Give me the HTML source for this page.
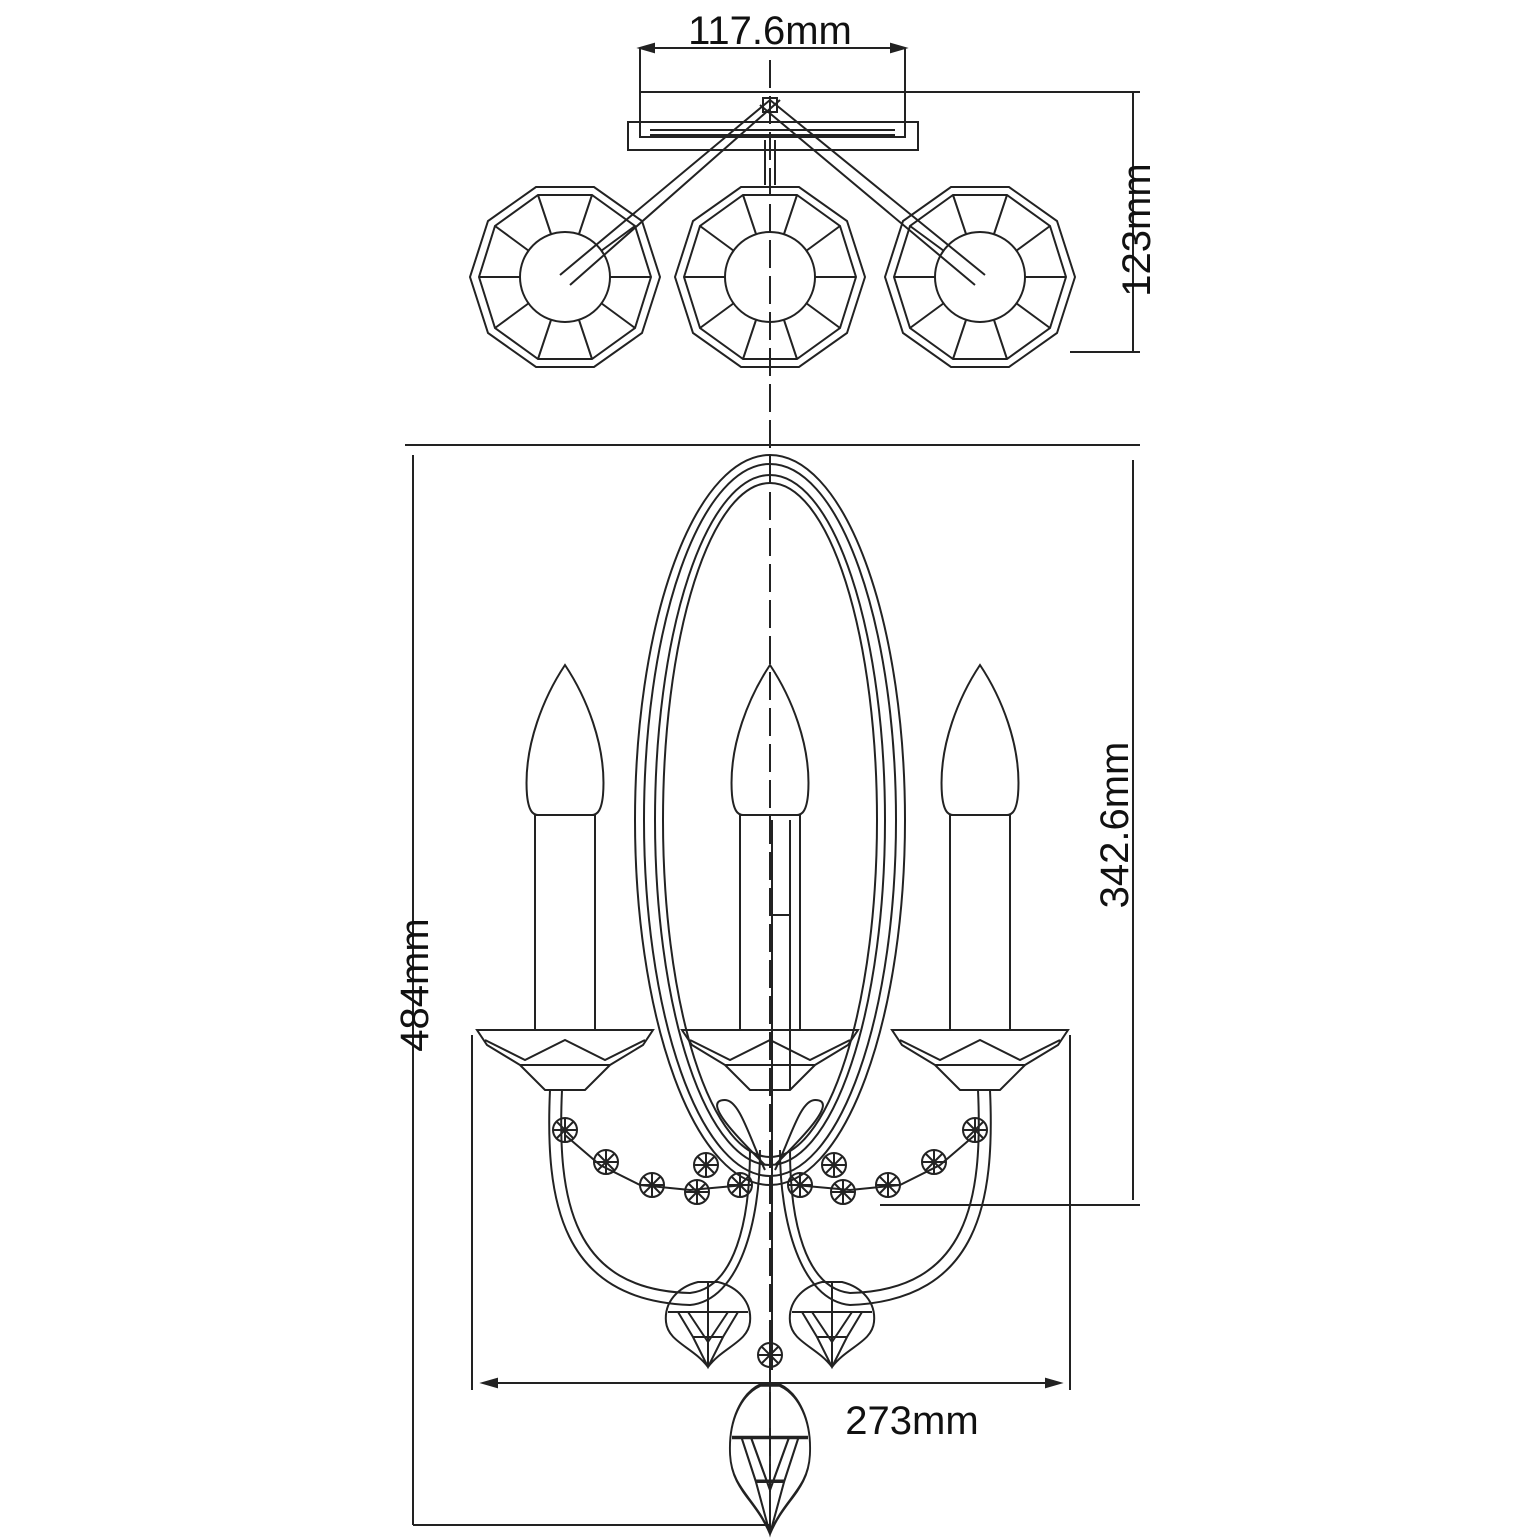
<!DOCTYPE html>
<html><head><style>body{margin:0;background:#fff}svg{display:block}</style></head><body>
<svg width="1540" height="1540" viewBox="0 0 1540 1540" xmlns="http://www.w3.org/2000/svg" font-family="Liberation Sans, sans-serif">
<defs>
<g id="dec" fill="none" stroke="#222" stroke-width="2">
<polygon points="95,0 77,56 29,90 -29,90 -77,56 -95,0 -77,-56 -29,-90 29,-90 77,-56"/>
<polygon points="86,0 70,51 27,82 -27,82 -70,51 -86,0 -70,-51 -27,-82 27,-82 70,-51"/>
<circle r="45"/>
<path d="M45,0H86M36,26L70,51M14,43L27,82M-14,43L-27,82M-36,26L-70,51M-45,0H-86M-36,-26L-70,-51M-14,-43L-27,-82M14,-43L27,-82M36,-26L70,-51"/>
</g>
<g id="cand" fill="none" stroke="#222" stroke-width="2">
<path d="M0,-150 C-20,-120 -42,-70 -38,-20 C-36,0 -30,0 -25,0 L25,0 C30,0 36,0 38,-20 C42,-70 20,-120 0,-150Z"/>
<rect x="-30" y="0" width="60" height="215"/>
<path d="M-88,215 H88 L78,230 L45,250 H-45 L-78,230Z M-45,250 L-20,275 H20 L45,250 M-80,225 L-40,245 L0,225 L40,245 L80,225"/>
</g>
<g id="cry" fill="none" stroke="#222" stroke-width="2">
<path d="M-10,0 C-30,5 -44,20 -42,40 C-40,60 -15,65 0,85 C15,65 40,60 42,40 C44,20 30,5 10,0Z M-40,30 H40 M-30,30 L-15,55 L0,85 L15,55 L30,30 M-20,30 L0,60 L20,30 M-15,55 H15 M0,0 V85"/>
</g>
<g id="bead" fill="none" stroke="#222" stroke-width="2"><circle r="12"/><path d="M-12,0H12M0,-12V12M-8,-8L8,8M8,-8L-8,8"/></g>
</defs>
<g fill="none" stroke="#222" stroke-width="2">
<path d="M640,48H905M640,48V95M905,48V95"/>
<path d="M640,48l14,-4v8z M905,48l-14,-4v8z" fill="#222"/>
<rect x="640" y="92" width="265" height="45"/>
<rect x="628" y="122" width="290" height="28"/>
<path d="M650,130H895M650,135H895"/>
<path d="M765,140V185M775,140V185"/>
<path d="M770,100L560,275M780,100L570,285M770,100L985,275M760,105L975,285"/>
<rect x="763" y="98" width="14" height="14"/>
<path d="M905,92H1140M1070,352H1140M1133,92V352"/>
<path d="M770,60V1535" stroke-dasharray="28,8"/>
</g>
<use href="#dec" x="565" y="277"/><use href="#dec" x="770" y="277"/><use href="#dec" x="980" y="277"/>
<g fill="none" stroke="#222" stroke-width="2">
<path d="M405,445H1140M413,455V1525M413,1525H770M1133,460V1200M880,1205H1140"/>
<path d="M472,1035V1390M1070,1035V1390M483,1383H1060"/>
<path d="M483,1383l14,-4v8z M1060,1383l-14,-4v8z" fill="#222"/>
<ellipse cx="770" cy="820" rx="135" ry="365"/>
<ellipse cx="770" cy="820" rx="126" ry="356"/>
<ellipse cx="770" cy="820" rx="115" ry="345"/>
<ellipse cx="770" cy="820" rx="107" ry="337"/>
<path d="M772,820V1370M790,820V1090M772,915H790"/>
<path d="M550,1090C545,1200 560,1300 690,1305 C740,1300 760,1220 760,1150M562,1090C557,1200 572,1290 690,1293 C735,1288 750,1220 750,1150"/>
<path d="M990,1090C995,1200 980,1300 850,1305 C800,1300 780,1220 780,1150M978,1090C983,1200 968,1290 850,1293 C805,1288 790,1220 790,1150"/>
<path d="M765,1165C740,1140 700,1100 725,1100 C740,1100 750,1140 765,1170M775,1165C800,1140 840,1100 815,1100 C800,1100 790,1140 775,1170"/>
<path d="M565,1135L600,1165L640,1185L690,1190L745,1185M975,1135L940,1165L900,1185L850,1190L795,1185"/>
</g>
<use href="#cand" x="565" y="815"/><use href="#cand" x="770" y="815"/><use href="#cand" x="980" y="815"/>
<use href="#bead" x="565" y="1130"/><use href="#bead" x="606" y="1162"/><use href="#bead" x="652" y="1185"/><use href="#bead" x="697" y="1192"/><use href="#bead" x="740" y="1185"/><use href="#bead" x="706" y="1165"/>
<use href="#bead" x="975" y="1130"/><use href="#bead" x="934" y="1162"/><use href="#bead" x="888" y="1185"/><use href="#bead" x="843" y="1192"/><use href="#bead" x="800" y="1185"/><use href="#bead" x="834" y="1165"/>
<use href="#bead" x="770" y="1355"/>
<use href="#cry" x="708" y="1282"/>
<use href="#cry" x="832" y="1282"/>
<g transform="translate(770,1385) scale(0.95,1.75)"><use href="#cry"/></g>
<g fill="#111" font-size="40">
<text x="770" y="44" text-anchor="middle">117.6mm</text>
<text x="912" y="1434" text-anchor="middle">273mm</text>
<text transform="translate(1150,230) rotate(-90)" text-anchor="middle">123mm</text>
<text transform="translate(1128,825) rotate(-90)" text-anchor="middle">342.6mm</text>
<text transform="translate(428,985) rotate(-90)" text-anchor="middle">484mm</text>
</g>
</svg>
</body></html>
